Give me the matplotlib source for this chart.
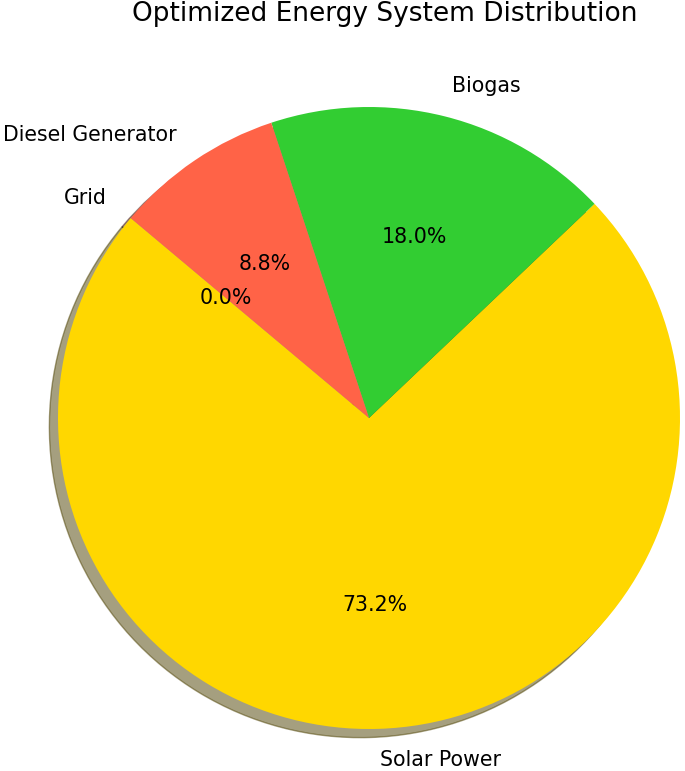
import matplotlib
matplotlib.use("Agg")
import matplotlib.pyplot as plt

# Energy mix shares (%)
sources = ["Solar Power", "Biogas", "Diesel Generator", "Grid"]
shares = [73.2, 18.0, 8.8, 0.0]
colors = ["gold", "limegreen", "tomato", "skyblue"]

fig = plt.figure(figsize=(6.85, 7.71), dpi=100)
ax = fig.add_axes([58 / 685, 42 / 771, 622 / 685, 622 / 771])

ax.pie(shares, labels=sources, colors=colors, autopct="%1.1f%%",
       startangle=140, shadow=True, textprops={"fontsize": 14.8})
ax.set_xlim(-1, 1)
ax.set_ylim(-1, 1)
ax.set_aspect("equal")
ax.axis("off")

fig.text(385 / 685, 1 - 14 / 771, "Optimized Energy System Distribution",
         ha="center", va="center", fontsize=19)

fig.savefig("out.png", dpi=100)
